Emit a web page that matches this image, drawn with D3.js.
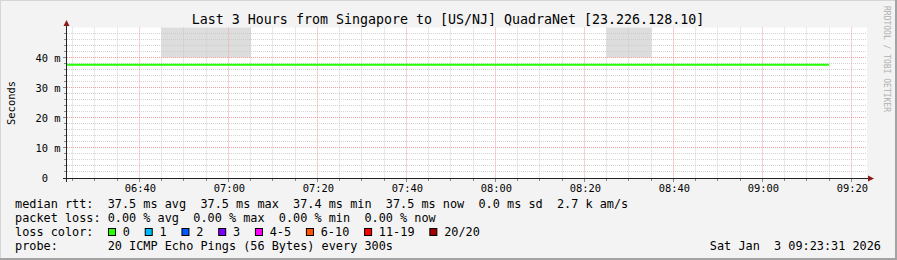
<!DOCTYPE html>
<html>
<head>
<meta charset="utf-8">
<script src="https://cdn.jsdelivr.net/npm/d3@7"></script>
<style>
  html, body { margin: 0; padding: 0; background: #f3f3f3; }
  svg { display: block; }
  text { font-family: "DejaVu Sans Mono", monospace; white-space: pre; }
</style>
</head>
<body>
<svg id="chart" width="897" height="260"></svg>
<script>
/* global d3 */

// SmokePing style latency graph (rrdtool look), drawn with D3.

const TITLE = "Last 3 Hours from Singapore to [US/NJ] QuadraNet [23.226.128.10]";
const Y_LABEL = "Seconds";
const WATERMARK = "RRDTOOL / TOBI OETIKER";
const DATE_STAMP = "Sat Jan  3 09:23:31 2026";

const rangeStart = "06:23:31";
const rangeEnd = "09:23:31";

// end of each 300s step, and the median rtt (ms) for that step
const stepEnds = [
  "06:25", "06:30", "06:35", "06:40", "06:45", "06:50", "06:55", "07:00",
  "07:05", "07:10", "07:15", "07:20", "07:25", "07:30", "07:35", "07:40",
  "07:45", "07:50", "07:55", "08:00", "08:05", "08:10", "08:15", "08:20",
  "08:25", "08:30", "08:35", "08:40", "08:45", "08:50", "08:55", "09:00",
  "09:05", "09:10", "09:15",
];
const medianRtt = [
  37.5, 37.5, 37.5, 37.5, 37.5, 37.5, 37.5, 37.5,
  37.5, 37.5, 37.5, 37.5, 37.5, 37.5, 37.5, 37.5,
  37.5, 37.5, 37.5, 37.5, 37.5, 37.5, 37.5, 37.5,
  37.5, 37.5, 37.5, 37.5, 37.5, 37.5, 37.5, 37.5,
  37.5, 37.5, 37.5,
];

// smoke (ping spread) shown only where it rises above the graph
const smokeSteps = ["06:50", "06:55", "07:00", "07:05", "08:30", "08:35"];
const smokeLow = [40.0, 40.0, 40.0, 40.0, 40.0, 40.0];
const smokeHigh = [58.0, 61.0, 57.0, 60.0, 59.0, 56.0];

const xTickLabels = ["06:40", "07:00", "07:20", "07:40", "08:00", "08:20", "08:40", "09:00", "09:20"];
const yTickValues = [0, 10, 20, 30, 40];
const yTickLabels = ["0  ", "10 m", "20 m", "30 m", "40 m"];

const legendLines = [
  "median rtt:  37.5 ms avg  37.5 ms max  37.4 ms min  37.5 ms now  0.0 ms sd  2.7 k am/s",
  "packet loss: 0.00 % avg  0.00 % max  0.00 % min  0.00 % now",
  "loss color:",
  "probe:       20 ICMP Echo Pings (56 Bytes) every 300s",
];
const lossLabels = ["0", "1", "2", "3", "4-5", "6-10", "11-19", "20/20"];
const lossColors = ["#26ff00", "#00b8ff", "#0059ff", "#7e00ff", "#ff00ff", "#ff5500", "#ff0000", "#a10000"];

const plot = { left: 67, right: 867, top: 27.5, bottom: 178 };
const CHAR_W = 7.134;

const parseT = (s) => {
  const [h, m, sec] = s.split(":").map(Number);
  return new Date(2026, 0, 3, h, m, sec || 0);
};

const t0 = parseT(rangeStart);
const t1 = parseT(rangeEnd);

const x = d3.scaleTime().domain([t0, t1]).range([66, 867]);
const y = d3.scaleLinear().domain([0, 50]).range([178, 27.5]);
const px = (v) => Math.floor(v) + 0.5;

const svg = d3.select("#chart");

// frame
svg.append("rect").attr("width", 897).attr("height", 260).attr("fill", "#f3f3f3");
svg.append("path").attr("d", "M0,259 V0 H896").attr("fill", "none").attr("stroke", "#d6d6d6").attr("stroke-width", 2);
svg.append("path").attr("d", "M0,259 H896 V0").attr("fill", "none").attr("stroke", "#a3a3a3").attr("stroke-width", 2);

// canvas
svg.append("rect")
  .attr("x", plot.left).attr("y", plot.top)
  .attr("width", plot.right - plot.left).attr("height", plot.bottom - plot.top)
  .attr("fill", "#ffffff");

svg.append("clipPath").attr("id", "clip")
  .append("rect")
  .attr("x", plot.left).attr("y", plot.top)
  .attr("width", plot.right - plot.left).attr("height", plot.bottom - plot.top);

// smoke
svg.append("g").attr("clip-path", "url(#clip)")
  .selectAll("rect")
  .data(smokeSteps.map((s, i) => ({ t: parseT(s), lo: smokeLow[i], hi: smokeHigh[i] })))
  .join("rect")
  .attr("x", (d) => x(d3.timeMinute.offset(d.t, -5)))
  .attr("width", (d) => x(d.t) - x(d3.timeMinute.offset(d.t, -5)) + 0.3)
  .attr("y", (d) => y(d.hi))
  .attr("height", (d) => y(d.lo) - y(d.hi))
  .attr("fill", "#dddddd");

// grid (drawn over the smoke, as rrdtool does)
const grid = svg.append("g");
const minorT = d3.timeMinute.every(5).range(t0, t1).filter((d) => d.getMinutes() % 20 !== 0);
const majorT = d3.timeMinute.every(20).range(t0, t1);
const minorY = d3.range(2, 50, 2).filter((v) => v % 10 !== 0);
const majorY = yTickValues.filter((v) => v > 0);

grid.selectAll(".vmin").data(minorT).join("line")
  .attr("x1", (d) => px(x(d))).attr("x2", (d) => px(x(d)))
  .attr("y1", plot.top).attr("y2", plot.bottom)
  .attr("stroke", "#c8c8c8").attr("stroke-opacity", 0.8).attr("stroke-dasharray", "1,1");
grid.selectAll(".hmin").data(minorY).join("line")
  .attr("x1", plot.left).attr("x2", plot.right)
  .attr("y1", (d) => px(y(d))).attr("y2", (d) => px(y(d)))
  .attr("stroke", "#c8c8c8").attr("stroke-opacity", 0.8).attr("stroke-dasharray", "1,1");
grid.selectAll(".vmaj").data(majorT).join("line")
  .attr("x1", (d) => px(x(d))).attr("x2", (d) => px(x(d)))
  .attr("y1", plot.top).attr("y2", plot.bottom)
  .attr("stroke", "#f0a0a0").attr("stroke-dasharray", "1,1");
grid.selectAll(".hmaj").data(majorY).join("line")
  .attr("x1", plot.left).attr("x2", plot.right)
  .attr("y1", (d) => px(y(d))).attr("y2", (d) => px(y(d)))
  .attr("stroke", "#f0a0a0").attr("stroke-dasharray", "1,1");

// median line
const pts = [[t0, medianRtt[0]]].concat(stepEnds.map((s, i) => [parseT(s), medianRtt[i]]));
svg.append("path")
  .attr("clip-path", "url(#clip)")
  .attr("d", d3.line().x((d) => x(d[0])).y((d) => y(d[1]) - 0.5).curve(d3.curveStepBefore)(pts))
  .attr("fill", "none")
  .attr("stroke", "#26ff00")
  .attr("stroke-width", 2);

// tick marks
const ticks = svg.append("g").attr("stroke", "#888");
ticks.selectAll(".ty").data(minorY).join("line")
  .attr("x1", 64).attr("x2", 66).attr("y1", (d) => px(y(d))).attr("y2", (d) => px(y(d)));
ticks.selectAll(".tyM").data(majorY).join("line")
  .attr("x1", 63).attr("x2", 66).attr("y1", (d) => px(y(d))).attr("y2", (d) => px(y(d)));
ticks.selectAll(".tx").data(minorT).join("line")
  .attr("x1", (d) => px(x(d))).attr("x2", (d) => px(x(d))).attr("y1", 179).attr("y2", 181);
ticks.selectAll(".txM").data(majorT).join("line")
  .attr("x1", (d) => px(x(d))).attr("x2", (d) => px(x(d))).attr("y1", 179).attr("y2", 182);

// axis lines + arrows
svg.append("line").attr("x1", 66.5).attr("x2", 66.5).attr("y1", 182).attr("y2", 24).attr("stroke", "#222");
svg.append("line").attr("x1", 63).attr("x2", 869).attr("y1", 178.5).attr("y2", 178.5).attr("stroke", "#222");
svg.append("path").attr("d", "M63.5,26 L69.5,26 L66.5,20 Z").attr("fill", "#8e1b1b");
svg.append("path").attr("d", "M868,175.5 L868,181.5 L874,178.5 Z").attr("fill", "#8e1b1b");

// axis labels
const xAxis = d3.axisBottom(x)
  .tickValues(majorT)
  .tickFormat((d, i) => xTickLabels[i])
  .tickSize(0)
  .tickPadding(0);
svg.append("g")
  .attr("transform", "translate(0.5,183)")
  .call(xAxis)
  .call((g) => g.select(".domain").remove())
  .call((g) => g.selectAll("text")
    .attr("dy", null).attr("y", 8.5)
    .attr("font-family", "DejaVu Sans Mono").attr("font-size", 10.4).attr("fill", "#000"));

const yAxis = d3.axisLeft(y)
  .tickValues(yTickValues)
  .tickFormat((d, i) => yTickLabels[i])
  .tickSize(0)
  .tickPadding(0);
svg.append("g")
  .attr("transform", "translate(60.5,0)")
  .call(yAxis)
  .call((g) => g.select(".domain").remove())
  .call((g) => g.selectAll("text")
    .attr("dy", "0.36em")
    .attr("font-family", "DejaVu Sans Mono").attr("font-size", 10.4).attr("fill", "#000"));

// title, unit label, watermark
svg.append("text").attr("x", 448).attr("y", 23.5).attr("text-anchor", "middle")
  .attr("font-size", 13.3).attr("fill", "#000").text(TITLE);
svg.append("text").attr("transform", "translate(14.5,103) rotate(-90)").attr("text-anchor", "middle")
  .attr("font-size", 10.4).attr("fill", "#000").text(Y_LABEL);
svg.append("text").attr("transform", "translate(883.5,59) rotate(90)").attr("text-anchor", "middle")
  .attr("font-size", 8).attr("fill", "#b0b0b0").text(WATERMARK);

// legend
const legend = svg.append("g").attr("font-size", 11.85).attr("fill", "#000");
legend.selectAll("text.line").data(legendLines).join("text")
  .attr("x", 15).attr("y", (d, i) => 208 + i * 14)
  .text((d) => d);

let lx = 108.5;
const lossPos = lossLabels.map((l) => {
  const p = lx;
  lx += 30 + CHAR_W * l.length - 0.4;
  return p;
});
legend.selectAll("rect.loss").data(lossLabels).join("rect")
  .attr("x", (d, i) => lossPos[i]).attr("y", 228.5)
  .attr("width", 7).attr("height", 7)
  .attr("fill", (d, i) => lossColors[i])
  .attr("stroke", "#000");
legend.selectAll("text.loss").data(lossLabels).join("text")
  .attr("x", (d, i) => lossPos[i] + 14.3).attr("y", 236)
  .text((d) => d);

legend.append("text").attr("x", 881).attr("y", 250).attr("text-anchor", "end").text(DATE_STAMP);
</script>
</body>
</html>
